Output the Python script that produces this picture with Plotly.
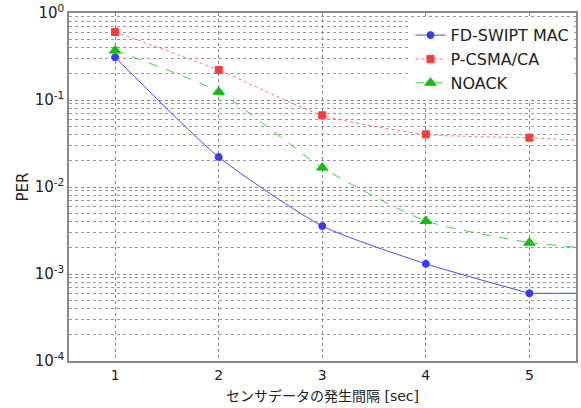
import plotly.graph_objects as go

x = [1, 2, 3, 4, 5]
fd_swipt = [0.31, 0.0221, 0.00356, 0.00131, 0.0006]
p_csma = [0.605, 0.221, 0.0667, 0.0403, 0.0369]
noack = [0.37, 0.124, 0.0167, 0.00407, 0.00229]

# continuation of the curves to the right edge of the axes
x_ext = [5, 5.45]
fd_swipt_ext = [0.0006, 0.0006]
p_csma_ext = [0.0369, 0.0345]
noack_ext = [0.00229, 0.00203]

series = [
    ("FD-SWIPT MAC", fd_swipt, fd_swipt_ext, "#3a3aff", "#4a4aff", "solid", "circle", 7),
    ("P-CSMA/CA", p_csma, p_csma_ext, "#ff3a3a", "#ff7070", "dot", "square", 7),
    ("NOACK", noack, noack_ext, "#10c010", "#40d040", "dash", "triangle-up", 10),
]

fig = go.Figure()
for name, ys, yext, col, lcol, dash, sym, ms in series:
    fig.add_trace(go.Scatter(
        x=x, y=ys, name=name, mode="lines+markers",
        line=dict(color=lcol, width=1, dash=dash, shape="spline", smoothing=0.6),
        marker=dict(symbol=sym, size=ms, color=col, line=dict(color=col, width=1)),
    ))
    fig.add_trace(go.Scatter(
        x=x_ext, y=yext, mode="lines", showlegend=False, hoverinfo="skip",
        line=dict(color=lcol, width=1, dash=dash),
    ))

ytick_vals = [1e-4, 1e-3, 1e-2, 1e-1, 1]
ytick_text = ["10<sup>-4</sup>", "10<sup>-3</sup>", "10<sup>-2</sup>", "10<sup>-1</sup>", "10<sup>0</sup>"]

font_family = "DejaVu Sans, Noto Sans CJK JP"
fig.update_layout(
    width=581, height=408,
    margin=dict(l=69, r=5, t=13, b=47, autoexpand=False),
    paper_bgcolor="white", plot_bgcolor="white",
    font=dict(family=font_family, size=14, color="#222"),
    legend=dict(x=0.997, y=0.985, xanchor="right", yanchor="top",
                bgcolor="white", borderwidth=0, font=dict(size=16),
                tracegroupgap=2),
)
fig.update_xaxes(
    range=[0.555, 5.45], tickvals=x, ticktext=[str(v) for v in x],
    showline=True, linecolor="#888", linewidth=1.5, mirror=True,
    showgrid=True, gridcolor="#888", griddash="dot", gridwidth=1,
    ticks="", zeroline=False, automargin=False,
    title=dict(text="センサデータの発生間隔 [sec]", standoff=10, font=dict(size=14)),
)
fig.update_yaxes(
    type="log", range=[-4, 0], tickvals=ytick_vals, ticktext=ytick_text,
    showline=True, linecolor="#888", linewidth=1.5, mirror=True,
    showgrid=True, gridcolor="#888", griddash="dot", gridwidth=1,
    minor=dict(showgrid=True, gridcolor="#999", griddash="dot", dtick="D1", ticks=""),
    ticks="", zeroline=False, automargin=False,
    tickfont=dict(size=15),
    title=dict(text="PER", standoff=2, font=dict(size=15)),
)

fig.write_html("out.html", config={"displayModeBar": False},
               post_script="document.body.style.margin='0';")
